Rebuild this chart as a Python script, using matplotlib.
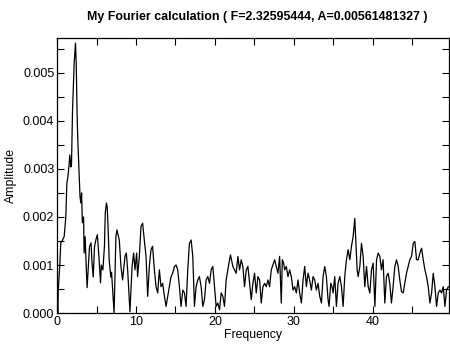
import matplotlib
matplotlib.use("Agg")
import matplotlib.pyplot as plt
from matplotlib.ticker import MultipleLocator, FormatStrFormatter

peak_freq = 2.32595444
peak_amp = 0.00561481327

freq = [
    0.00, 0.08, 0.15, 0.35, 0.46, 0.68, 0.89, 1.10, 1.23, 1.36, 1.53, 1.60, 1.74, 1.82,
    1.95, 2.16, peak_freq, 2.42, 2.52, 2.62, 2.80, 2.90, 3.00, 3.10, 3.20, 3.35, 3.42,
    3.55, 3.70, 3.80, 4.00, 4.10, 4.30, 4.40, 4.57, 4.74, 4.90, 5.10, 5.30, 5.50, 5.60,
    5.80, 6.00, 6.10, 6.25, 6.35, 6.50, 6.60, 6.80, 6.90, 7.22, 7.45, 7.58, 7.88, 8.09,
    8.30, 8.60, 8.77, 8.94, 9.06, 9.23, 9.50, 9.70, 9.87, 10.08, 10.20, 10.42, 10.63,
    10.84, 11.05, 11.27, 11.48, 11.69, 11.90, 12.10, 12.33, 12.54, 12.75, 12.96, 13.17,
    13.38, 13.60, 13.81, 14.15, 14.44, 14.65, 14.87, 15.08, 15.29, 15.50, 15.71, 15.93,
    16.14, 16.35, 16.56, 16.77, 16.99, 17.20, 17.41, 17.62, 17.83, 18.04, 18.26, 18.47,
    18.68, 18.89, 19.10, 19.32, 19.53, 19.74, 19.95, 20.16, 20.37, 20.59, 20.80, 21.01,
    21.22, 21.43, 21.64, 21.86, 21.98, 22.28, 22.49, 22.70, 22.92, 23.13, 23.34, 23.55,
    23.76, 23.98, 24.19, 24.40, 24.61, 24.82, 25.03, 25.25, 25.46, 25.67, 25.88, 26.09,
    26.31, 26.52, 26.73, 26.94, 27.15, 27.58, 27.79, 28.00, 28.21, 28.42, 28.55, 28.72,
    28.85, 29.06, 29.27, 29.48, 29.69, 29.91, 30.12, 30.33, 30.54, 30.75, 30.97, 31.18,
    31.39, 31.60, 31.81, 32.02, 32.24, 32.45, 32.66, 32.87, 33.08, 33.30, 33.51, 33.72,
    33.93, 34.14, 34.35, 34.48, 34.69, 34.86, 34.99, 35.20, 35.41, 35.62, 35.84, 36.05,
    36.26, 36.47, 36.68, 36.90, 37.11, 37.32, 37.53, 37.74, 37.87, 38.04, 38.17, 38.38,
    38.59, 38.80, 39.01, 39.23, 39.44, 39.65, 39.86, 40.07, 40.29, 40.50, 40.71, 40.92,
    41.12, 41.33, 41.55, 41.76, 41.97, 42.18, 42.39, 42.60, 42.82, 43.03, 43.24, 43.45,
    43.66, 43.88, 44.09, 44.30, 44.51, 44.72, 44.94, 45.15, 45.36, 45.57, 45.78, 46.00,
    46.21, 46.42, 46.63, 46.84, 47.05, 47.27, 47.48, 47.69, 47.90, 48.11, 48.32, 48.54,
    48.75, 48.96, 49.17, 49.38, 49.60,
]

amplitude = [
    0.00030, 0.00000, 0.00050, 0.00105, 0.00146, 0.00152, 0.00159, 0.00200, 0.00270,
    0.00283, 0.00312, 0.00329, 0.00304, 0.00310, 0.00422, 0.00520, peak_amp, 0.00520,
    0.00420, 0.00360, 0.00283, 0.00242, 0.00229, 0.00250, 0.00188, 0.00200, 0.00125,
    0.00159, 0.00090, 0.00053, 0.00111, 0.00138, 0.00146, 0.00110, 0.00075, 0.00138,
    0.00152, 0.00163, 0.00117, 0.00063, 0.00100, 0.00090, 0.00140, 0.00208, 0.00229,
    0.00220, 0.00159, 0.00110, 0.00075, 0.00085, 0.00000, 0.00159, 0.00173, 0.00152,
    0.00097, 0.00069, 0.00118, 0.00125, 0.00090, 0.00055, 0.00003, 0.00097, 0.00125,
    0.00090, 0.00125, 0.00076, 0.00118, 0.00180, 0.00187, 0.00152, 0.00118, 0.00035,
    0.00097, 0.00132, 0.00139, 0.00090, 0.00055, 0.00042, 0.00090, 0.00055, 0.00062,
    0.00035, 0.00014, 0.00048, 0.00076, 0.00083, 0.00097, 0.00100, 0.00090, 0.00055,
    0.00014, 0.00048, 0.00042, 0.00014, 0.00090, 0.00145, 0.00152, 0.00118, 0.00014,
    0.00055, 0.00069, 0.00076, 0.00055, 0.00014, 0.00028, 0.00069, 0.00076, 0.00062,
    0.00090, 0.00097, 0.00055, 0.00014, 0.00021, 0.00007, 0.00042, 0.00035, 0.00014,
    0.00069, 0.00090, 0.00111, 0.00121, 0.00097, 0.00090, 0.00083, 0.00118, 0.00090,
    0.00111, 0.00097, 0.00055, 0.00090, 0.00097, 0.00062, 0.00028, 0.00062, 0.00083,
    0.00042, 0.00076, 0.00069, 0.00021, 0.00055, 0.00062, 0.00055, 0.00069, 0.00055,
    0.00090, 0.00111, 0.00097, 0.00083, 0.00118, 0.00021, 0.00111, 0.00104, 0.00090,
    0.00097, 0.00076, 0.00090, 0.00076, 0.00048, 0.00055, 0.00042, 0.00069, 0.00042,
    0.00021, 0.00069, 0.00097, 0.00055, 0.00083, 0.00069, 0.00048, 0.00076, 0.00069,
    0.00048, 0.00062, 0.00035, 0.00021, 0.00076, 0.00097, 0.00076, 0.00028, 0.00014,
    0.00062, 0.00055, 0.00042, 0.00076, 0.00014, 0.00062, 0.00076, 0.00055, 0.00014,
    0.00076, 0.00111, 0.00132, 0.00111, 0.00139, 0.00159, 0.00197, 0.00152, 0.00090,
    0.00076, 0.00097, 0.00145, 0.00118, 0.00055, 0.00097, 0.00055, 0.00042, 0.00090,
    0.00104, 0.00014, 0.00111, 0.00125, 0.00118, 0.00090, 0.00111, 0.00021, 0.00076,
    0.00083, 0.00062, 0.00021, 0.00055, 0.00097, 0.00111, 0.00097, 0.00069, 0.00045,
    0.00042, 0.00062, 0.00083, 0.00097, 0.00111, 0.00118, 0.00145, 0.00149, 0.00111,
    0.00111, 0.00125, 0.00135, 0.00111, 0.00090, 0.00076, 0.00055, 0.00021, 0.00042,
    0.00083, 0.00055, 0.00014, 0.00042, 0.00048, 0.00042, 0.00055, 0.00014, 0.00048,
    0.00055,
]

plt.rcParams["font.family"] = ["Liberation Sans", "DejaVu Sans"]

fig = plt.figure(figsize=(4.5, 3.46), dpi=100)
ax = fig.add_axes([0.127, 0.095, 0.871, 0.795])

ax.plot(freq, amplitude, color="black", linewidth=0.9)

ax.set_xlim(0, 49.7)
ax.set_ylim(0, 0.00572)

ax.xaxis.set_major_locator(MultipleLocator(10))
ax.xaxis.set_minor_locator(MultipleLocator(5))
ax.yaxis.set_major_locator(MultipleLocator(0.001))
ax.yaxis.set_minor_locator(MultipleLocator(0.0005))
ax.yaxis.set_major_formatter(FormatStrFormatter("%.3f"))

ax.tick_params(which="both", direction="in", top=True, right=True,
               length=5, width=0.8, labelsize=9, pad=2)
for s in ax.spines.values():
    s.set_linewidth(0.9)

ax.set_xlabel("Frequency", fontsize=8.8, labelpad=1)
ax.set_ylabel("Amplitude", fontsize=8.8, labelpad=4)
ax.set_title(f"My Fourier calculation ( F={peak_freq}, A={peak_amp} )",
             fontsize=8.9, fontweight="bold", pad=13, x=0.51)

fig.savefig("out.png", dpi=100)
